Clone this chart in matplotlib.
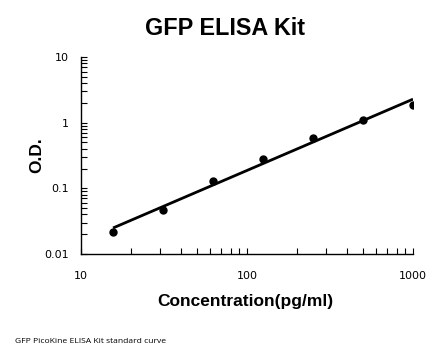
import numpy as np
import matplotlib
matplotlib.use("Agg")
import matplotlib.pyplot as plt
from matplotlib.ticker import LogLocator, FixedLocator, FixedFormatter, NullFormatter

# standard curve readings
conc = [15.6, 31.25, 62.5, 125, 250, 500, 1000]
od = [0.022, 0.047, 0.13, 0.28, 0.575, 1.09, 1.85]
x_ticks = [10, 100, 1000]
x_labels = ["10", "100", "1000"]
y_ticks = [0.01, 0.1, 1, 10]
y_labels = ["0.01", "0.1", "1", "10"]

# power-law trendline (linear fit in log-log space)
slope, icpt = np.polyfit(np.log10(conc), np.log10(od), 1)
xf = np.logspace(np.log10(conc[0]), np.log10(conc[-1]), 100)
yf = 10 ** (icpt + slope * np.log10(xf))

fig = plt.figure(figsize=(4.46, 3.56), dpi=100)
ax = fig.add_axes([0.1816, 0.2865, 0.7444, 0.5535])

ax.plot(xf, yf, color="black", lw=2.0, solid_capstyle="butt")
ax.plot(conc, od, "o", color="black", ms=5)

ax.set_xscale("log")
ax.set_yscale("log")
ax.set_xlim(10, 1000)
ax.set_ylim(0.01, 10)

ax.xaxis.set_major_locator(FixedLocator(x_ticks))
ax.xaxis.set_major_formatter(FixedFormatter(x_labels))
ax.yaxis.set_major_locator(FixedLocator(y_ticks))
ax.yaxis.set_major_formatter(FixedFormatter(y_labels))
ax.xaxis.set_minor_locator(LogLocator(base=10, subs=np.arange(2, 10)))
ax.yaxis.set_minor_locator(LogLocator(base=10, subs=np.arange(2, 10)))
ax.xaxis.set_minor_formatter(NullFormatter())
ax.yaxis.set_minor_formatter(NullFormatter())

ax.tick_params(which="both", direction="in", width=0.8, labelsize=8,
               colors="black", length=4)
ax.tick_params(axis="x", pad=12)
ax.tick_params(axis="y", pad=9)
for lab in ax.get_xticklabels() + ax.get_yticklabels():
    lab.set_family("DejaVu Sans")

for side in ("top", "right"):
    ax.spines[side].set_visible(False)
for side in ("left", "bottom"):
    ax.spines[side].set_linewidth(1.0)

fig.text(0.505, 0.921, "GFP ELISA Kit", ha="center", va="center",
         fontsize=16.8, fontweight="bold", family="Liberation Sans")
fig.text(0.55, 0.152, "Concentration(pg/ml)", ha="center", va="center",
         fontsize=12.5, fontweight="bold", family="Liberation Sans")
fig.text(0.083, 0.565, "O.D.", ha="center", va="center", rotation=90,
         fontsize=12.5, fontweight="bold", family="Liberation Sans")
fig.text(0.034, 0.04, "GFP PicoKine ELISA Kit standard curve", ha="left",
         va="center", fontsize=6.1, family="Open Sans")

fig.savefig("out.png", dpi=100)
